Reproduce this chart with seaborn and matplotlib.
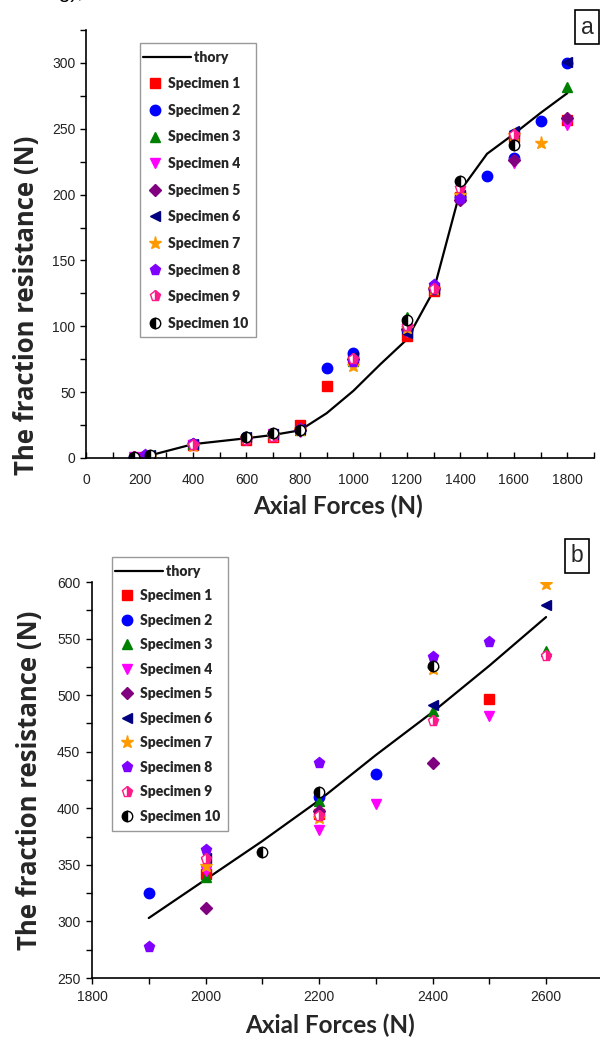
import numpy as np
import pandas as pd
import matplotlib
matplotlib.use("Agg")
import matplotlib.pyplot as plt
import seaborn as sns
from matplotlib.ticker import MultipleLocator
from matplotlib.legend_handler import HandlerLine2D

sns.set_theme(style="white")
plt.rcParams['font.family'] = ['Liberation Sans', 'DejaVu Sans']

nan = np.nan

# ---------------- Panel a data ----------------
theory_a_x = [240, 400, 600, 700, 800, 900, 1000, 1100, 1200, 1300, 1400, 1500, 1600, 1700, 1800]
theory_a_y = [2, 10.5, 15, 17.5, 21, 34, 51, 71, 90, 127, 203, 231, 246, 262, 277]

forces_a = [180, 220, 240, 400, 600, 700, 800, 900, 1000, 1200, 1300, 1400, 1500, 1600, 1700, 1800]
spec1_a = [nan, 1, nan, 10, 14, 16, 25, 55, 76, 93, 127, 198, nan, 244, nan, 257]
spec2_a = [1, nan, nan, 11, 16, 18, 21, 68, 80, 97, 128, 198, 214, 228, 256, 300]
spec3_a = [nan, 2, nan, 11, 17, 19, 21, nan, 74, 107, 129, 199, nan, 246, nan, 282]
spec4_a = [1, nan, nan, 10, 14, 18, 20, nan, 72, 96, 128, 196, nan, 224, nan, 253]
spec5_a = [nan, 1, nan, 11, 15, 18, 21, nan, 75, 98, 129, 196, nan, 226, nan, 258]
spec6_a = [nan, nan, 2, 11, 16, 18, 22, nan, 77, 95, 128, 200, nan, 248, nan, 301]
spec7_a = [nan, nan, 1, 9, 15, 17, 21, nan, 70, 99, 128, 200, nan, 245, 239, nan]
spec8_a = [nan, 2, nan, 11, 15, 18, 22, nan, 73, 100, 131, 197, nan, nan, nan, nan]
spec9_a = [1, nan, nan, 10, 14, 16, 21, nan, 75, 100, 128, 205, nan, 245, nan, nan]
spec10_a = [1, nan, 2, nan, 16, 19, 21, nan, nan, 105, nan, 210, nan, 238, nan, nan]

# ---------------- Panel b data ----------------
theory_b_x = [1900, 2000, 2100, 2200, 2300, 2400, 2500, 2600]
theory_b_y = [303, 337, 371, 407, 447, 485, 526, 569]

forces_b = [1900, 2000, 2100, 2200, 2300, 2400, 2500, 2600]
spec1_b = [nan, 342, nan, 395, nan, nan, 497, nan]
spec2_b = [325, nan, nan, 410, 430, nan, nan, nan]
spec3_b = [nan, 339, nan, 406, nan, 486, nan, 539]
spec4_b = [nan, 345, nan, 381, 404, nan, 482, nan]
spec5_b = [nan, 312, nan, 398, nan, 440, nan, nan]
spec6_b = [nan, 356, nan, nan, nan, 491, nan, 580]
spec7_b = [nan, 349, nan, 391, nan, 523, nan, 598]
spec8_b = [277, 363, nan, 440, nan, 534, 547, nan]
spec9_b = [nan, 355, nan, 393, nan, 477, nan, 535]
spec10_b = [nan, nan, 361, 414, nan, 526, nan, nan]

labels = ["Specimen %d" % i for i in range(1, 11)]

styles = [
    dict(marker="s", mfc="#ff0000", mec="#ff0000", ms=6.5),
    dict(marker="o", mfc="#0000ff", mec="#0000ff", ms=7.5),
    dict(marker="^", mfc="#008000", mec="#008000", ms=7.5),
    dict(marker="v", mfc="#ff00ff", mec="#ff00ff", ms=7.5),
    dict(marker="D", mfc="#800080", mec="#800080", ms=6.5),
    dict(marker="<", mfc="#000080", mec="#000080", ms=7.5),
    dict(marker="*", mfc="#ff9900", mec="#ff9900", ms=9.5),
    dict(marker="p", mfc="#7f00ff", mec="#7f00ff", ms=8),
    dict(marker="p", mfc="#ff1a8c", mec="#ff1a8c", ms=8, fillstyle="right", mfcalt="white"),
    dict(marker="o", mfc="black", mec="black", ms=7.5, fillstyle="left", mfcalt="white"),
]


class LongLine(HandlerLine2D):
    def __init__(self, factor, **kw):
        super().__init__(**kw)
        self.factor = factor

    def get_xdata(self, legend, xdescent, ydescent, width, height, fontsize):
        xd = np.array([-xdescent - 0.3 * width, -xdescent + width * self.factor])
        return xd, np.array([-xdescent + width / 2])


def draw_panel(ax, fx, specs, tx, ty):
    th = pd.DataFrame({"x": tx, "y": ty})
    sns.lineplot(data=th, x="x", y="y", ax=ax, color="black", lw=1.6,
                 estimator=None, errorbar=None, sort=False, label="thory")
    handles = [ax.get_lines()[-1]]
    for vals, st, lab in zip(specs, styles, labels):
        df = pd.DataFrame({"x": fx, "y": vals}).dropna()
        kw = dict(marker=st["marker"], markerfacecolor=st["mfc"], markeredgecolor=st["mec"],
                  markersize=st["ms"], markeredgewidth=1.0, linestyle="none")
        if "fillstyle" in st:
            kw["fillstyle"] = st["fillstyle"]
            kw["markerfacecoloralt"] = st["mfcalt"]
        sns.lineplot(data=df, x="x", y="y", ax=ax, estimator=None, errorbar=None,
                     label=lab, color=st["mec"], **kw)
        handles.append(ax.get_lines()[-1])
    return handles


W, H = 600, 1039
fig = plt.figure(figsize=(W / 100, H / 100), dpi=100)

def axpix(l, t, r, b):
    return fig.add_axes([l / W, 1 - b / H, (r - l) / W, (b - t) / H])

axA = axpix(86, 30, 594, 458)
axB = axpix(92, 582, 600, 978)

hA = draw_panel(axA, forces_a,
                [spec1_a, spec2_a, spec3_a, spec4_a, spec5_a, spec6_a, spec7_a, spec8_a, spec9_a, spec10_a],
                theory_a_x, theory_a_y)
hB = draw_panel(axB, forces_b,
                [spec1_b, spec2_b, spec3_b, spec4_b, spec5_b, spec6_b, spec7_b, spec8_b, spec9_b, spec10_b],
                theory_b_x, theory_b_y)

xlab_font = dict(family=["Lato", "DejaVu Sans"], weight="bold", size=17.5)
ylab_font = dict(family=["Open Sans", "DejaVu Sans"], weight="bold", size=18.5)
leg_font = dict(family=["Lato", "DejaVu Sans"], weight="heavy", size=10)

# Axes A
axA.set_xlim(0, 1900)
axA.set_ylim(0, 325)
axA.xaxis.set_major_locator(MultipleLocator(200))
axA.xaxis.set_minor_locator(MultipleLocator(100))
axA.yaxis.set_major_locator(MultipleLocator(50))
axA.yaxis.set_minor_locator(MultipleLocator(25))
axA.set_yticks(np.arange(0, 301, 50))
axA.tick_params(axis="x", which="both", direction="in", length=4.5, width=1, labelsize=10, pad=11)
axA.tick_params(axis="y", which="both", direction="out", length=4.5, width=1, labelsize=10, pad=3)
axA.tick_params(which="both", bottom=True, left=True, top=False, right=False, colors="black")
axA.tick_params(which="both", labelcolor="#222222")

# Axes B
axB.set_xlim(1800, 2695)
axB.set_ylim(250, 600)
axB.xaxis.set_major_locator(MultipleLocator(200))
axB.xaxis.set_minor_locator(MultipleLocator(100))
axB.yaxis.set_major_locator(MultipleLocator(50))
axB.yaxis.set_minor_locator(MultipleLocator(25))
axB.tick_params(axis="both", which="both", direction="out", length=4.5, width=1, labelsize=10, pad=4)
axB.tick_params(which="both", bottom=True, left=True, top=False, right=False, colors="black")
axB.tick_params(which="both", labelcolor="#222222")

for ax in (axA, axB):
    for s in ("top", "right"):
        ax.spines[s].set_visible(False)
    for s in ("left", "bottom"):
        ax.spines[s].set_color("black")
        ax.spines[s].set_linewidth(1.2)
    ax.set_facecolor("white")
    ax.set_xlabel("Axial Forces (N)", **xlab_font)
    ax.set_ylabel("The fraction resistance (N)", **ylab_font)

axA.xaxis.set_label_coords((338 - 86) / 508, -(506 - 458) / 428)
axA.yaxis.set_label_coords((27 - 86) / 508, (458 - 305) / 428)
axB.xaxis.set_label_coords((330 - 92) / 508, -(1025 - 978) / 396)
axB.yaxis.set_label_coords((30 - 92) / 508, 0.5)
for ax in (axA, axB):
    ax.xaxis.label.set_va("center")
    ax.yaxis.label.set_va("center")

def make_legend(ax, handles, left, top, spacing):
    labs = ["        thory"] + labels
    leg = ax.legend(handles, labs, loc="upper left",
                    bbox_to_anchor=(left / W, 1 - top / H), bbox_transform=fig.transFigure,
                    borderaxespad=0, frameon=True, fancybox=False, numpoints=1,
                    handlelength=1.05, handletextpad=0.45, borderpad=0.55,
                    labelspacing=spacing, prop=leg_font,
                    handler_map={handles[0]: LongLine(3.0)})
    fr = leg.get_frame()
    fr.set_edgecolor("#999999")
    fr.set_linewidth(1.0)
    fr.set_facecolor("white")
    fr.set_alpha(1)
    return leg

make_legend(axA, hA, 140, 43, 0.98)
make_legend(axB, hB, 112, 557, 0.83)

# panel tags
fig.text(587 / W, 1 - 27 / H, "a", ha="center", va="center", size=16.5,
         family=["Liberation Sans", "DejaVu Sans"],
         bbox=dict(boxstyle="square,pad=0.25", fc="white", ec="black", lw=1.2))
fig.text(577 / W, 1 - 556 / H, "b", ha="center", va="center", size=16.5,
         family=["Liberation Sans", "DejaVu Sans"],
         bbox=dict(boxstyle="square,pad=0.25", fc="white", ec="black", lw=1.2))

# cropped caption fragment at the very top
fig.text(48 / W, 1 + 2 / H, "ng),", ha="left", va="baseline", size=15,
         family=["Liberation Sans", "DejaVu Sans"], color="black")

fig.savefig("out.png", dpi=100, facecolor="white")
